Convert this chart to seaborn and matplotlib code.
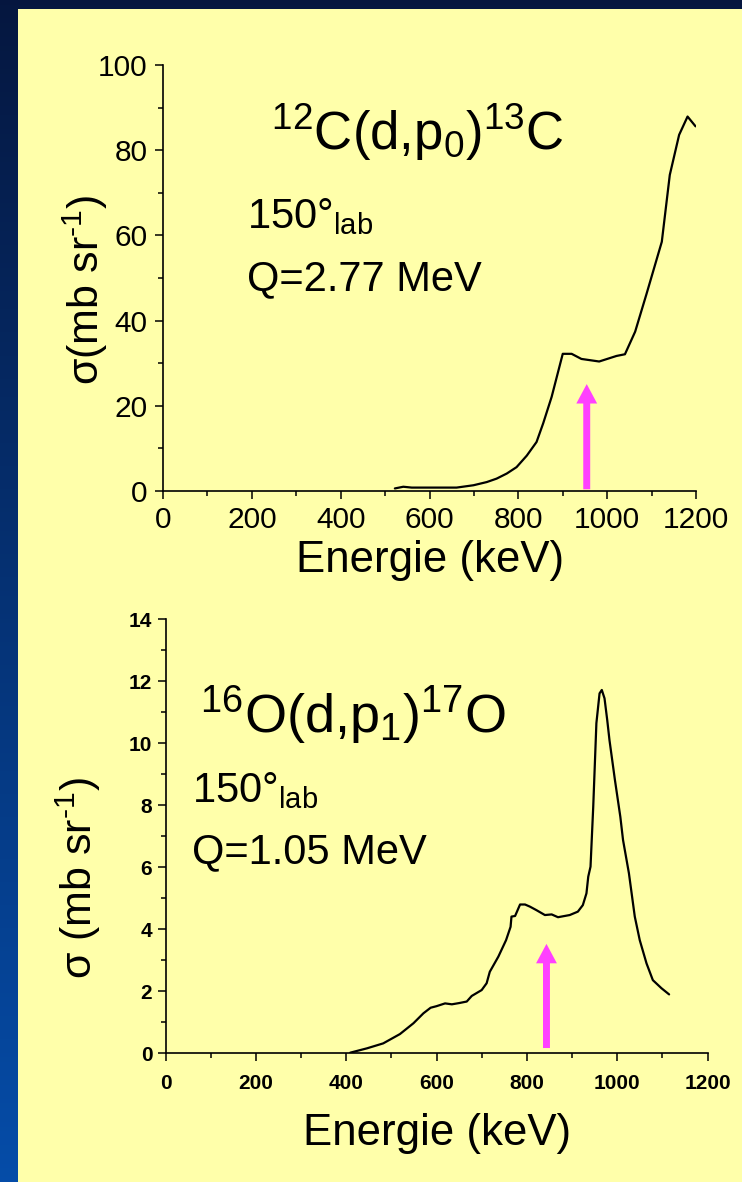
import numpy as np
import pandas as pd
import matplotlib
matplotlib.use("Agg")
import matplotlib.pyplot as plt
from matplotlib.patches import Rectangle
import seaborn as sns

# ---------------- data ----------------
E_c = [522, 541, 560, 601, 661, 699, 729, 751, 774, 796, 819, 841, 856, 875,
       900, 920, 942, 982, 1021, 1040, 1063, 1089, 1123, 1141, 1162, 1181, 1199]
sig_c = [0.6, 1.0, 0.8, 0.8, 0.8, 1.35, 2.1, 2.9, 4.1, 5.6, 8.3, 11.5, 15.9, 22.1,
         32.2, 32.2, 31.0, 30.4, 31.7, 32.1, 37.4, 46.4, 58.5, 74.2, 83.6, 87.9, 85.6]

E_o = [409, 446, 482, 519, 549, 571, 587, 600, 619, 634, 650, 667, 678, 700, 711,
       718, 737, 754, 764, 766, 774, 785, 796, 807, 821, 840, 855, 869, 895, 913,
       924, 932, 936, 941, 947, 954, 961, 966, 972, 978, 983, 995, 1007, 1013,
       1026, 1039, 1050, 1065, 1079, 1098, 1115]
sig_o = [0.02, 0.16, 0.32, 0.62, 0.97, 1.29, 1.47, 1.52, 1.61, 1.58, 1.62, 1.67,
         1.85, 2.04, 2.26, 2.63, 3.12, 3.65, 4.08, 4.41, 4.43, 4.80, 4.80, 4.73,
         4.62, 4.46, 4.48, 4.39, 4.46, 4.57, 4.78, 5.16, 5.70, 6.02, 7.95, 10.65,
         11.61, 11.72, 11.45, 10.75, 10.1, 8.82, 7.63, 6.88, 5.81, 4.41, 3.65,
         2.90, 2.36, 2.10, 1.90]

arrow_c = [954, 0.4, 25.1]     # energy, base, tip
arrow_o = [843.5, 0.17, 3.53]

yticks_c = [0, 20, 40, 60, 80, 100]
yticks_o = [0, 2, 4, 6, 8, 10, 12, 14]
xticks = [0, 200, 400, 600, 800, 1000, 1200]

title_c = r"$^{12}$C(d,p$_0$)$^{13}$C"
title_o = r"$^{16}$O(d,p$_1$)$^{17}$O"
angle_txt = r"150°$_{lab}$"
q_c = "Q=2.77 MeV"
q_o = "Q=1.05 MeV"
xlab = "Energie (keV)"
ylab_c = "σ(mb sr$^{\u2010 1}$)"
ylab_o = "σ (mb sr$^{\u2010 1}$)"

# ---------------- style ----------------
sns.set_theme(style="ticks")
plt.rcParams["font.family"] = ["Liberation Sans", "DejaVu Sans"]
plt.rcParams["mathtext.default"] = "regular"
for k in ["text.color", "axes.labelcolor", "xtick.color", "ytick.color",
          "axes.edgecolor"]:
    plt.rcParams[k] = "black"

W, H = 742, 1182
fig = plt.figure(figsize=(W / 100, H / 100), dpi=100)

# background: blue gradient with yellow panel
bg = fig.add_axes([0, 0, 1, 1], zorder=-10)
top = np.array([0.02, 0.09, 0.25])
bot = np.array([0.02, 0.30, 0.66])
t = np.linspace(0, 1, 256)[:, None]
grad = (top[None, :] * (1 - t) + bot[None, :] * t)[:, None, :]
grad = np.repeat(grad, 2, axis=1)
bg.imshow(grad, extent=[0, 1, 0, 1], aspect="auto", origin="upper")
bg.add_patch(Rectangle((18 / W, 0), 1 - 18 / W, 1 - 8.5 / H,
                       facecolor="#FFFFAA", edgecolor="none"))
bg.set_xlim(0, 1); bg.set_ylim(0, 1)
bg.axis("off")

MAG = "#FF40FF"


def frac(l, r, t_, b):
    return [l / W, 1 - b / H, (r - l) / W, (b - t_) / H]


def style_axes(ax, ylim, yticks, tick_fs, bold, xpad, ypad):
    ax.set_facecolor("none")
    for s in ["top", "right"]:
        ax.spines[s].set_visible(False)
    for s in ["left", "bottom"]:
        ax.spines[s].set_linewidth(1.2)
        ax.spines[s].set_color("black")
    ax.set_xlim(0, 1200)
    ax.set_ylim(*ylim)
    ax.set_xticks(xticks)
    ax.set_yticks(yticks)
    ax.set_xticks([v + 100 for v in xticks[:-1]], minor=True)
    ax.set_yticks([(a + b) / 2 for a, b in zip(yticks[:-1], yticks[1:])], minor=True)
    ax.tick_params(which="major", length=6, width=1.1, color="black")
    ax.tick_params(which="minor", length=3.5, width=1.1, color="black")
    ax.tick_params(axis="x", which="major", pad=xpad)
    ax.tick_params(axis="y", which="major", pad=ypad)
    for lab in ax.get_xticklabels() + ax.get_yticklabels():
        lab.set_fontsize(tick_fs)
        lab.set_color("black")
        if bold:
            lab.set_fontweight("bold")
    ax.grid(False)


# ---------------- top panel ----------------
ax1 = fig.add_axes(frac(163, 696, 65, 491))
sns.lineplot(x=E_c, y=sig_c, ax=ax1, color="black", lw=1.6, sort=False)
style_axes(ax1, (0, 100), yticks_c, 21.5, False, 4.5, 5)
ax1.annotate("", xy=(arrow_c[0], arrow_c[2]), xytext=(arrow_c[0], arrow_c[1]),
             arrowprops=dict(width=5, headwidth=15, headlength=14, shrink=0,
                             color=MAG, lw=0))
ax1.set_xlabel(xlab, fontsize=31.5, color="black")
ax1.xaxis.set_label_coords(0.501, -0.190)
ax1.xaxis.label.set_va("baseline")
ax1.set_ylabel(ylab_c, fontsize=31, color="black")
ax1.yaxis.set_label_coords(-0.146, 0.472)
ax1.yaxis.label.set_va("center")
ax1.text(0.4765, 0.8005, title_c, transform=ax1.transAxes, fontsize=38,
         ha="center", va="baseline", color="black")
ax1.text(0.1576, 0.6174, angle_txt, transform=ax1.transAxes, fontsize=30,
         ha="left", va="baseline", color="black")
ax1.text(0.1576, 0.4718, q_c, transform=ax1.transAxes, fontsize=30,
         ha="left", va="baseline", color="black")

# ---------------- bottom panel ----------------
ax2 = fig.add_axes(frac(165.5, 707.5, 619.3, 1053.3))
sns.lineplot(x=E_o, y=sig_o, ax=ax2, color="black", lw=1.6, sort=False)
style_axes(ax2, (0, 14), yticks_o, 15, True, 9, 3.5)
ax2.annotate("", xy=(arrow_o[0], arrow_o[2]), xytext=(arrow_o[0], arrow_o[1]),
             arrowprops=dict(width=5, headwidth=15, headlength=14, shrink=0,
                             color=MAG, lw=0))
ax2.set_xlabel(xlab, fontsize=31.5, color="black")
ax2.xaxis.set_label_coords(0.501, -0.2124)
ax2.xaxis.label.set_va("baseline")
ax2.set_ylabel(ylab_o, fontsize=31, color="black")
ax2.yaxis.set_label_coords(-0.161, 0.404)
ax2.yaxis.label.set_va("center")
ax2.text(0.345, 0.738, title_o, transform=ax2.transAxes, fontsize=39,
         ha="center", va="baseline", color="black")
ax2.text(0.0489, 0.579, angle_txt, transform=ax2.transAxes, fontsize=30,
         ha="left", va="baseline", color="black")
ax2.text(0.0489, 0.4387, q_o, transform=ax2.transAxes, fontsize=30,
         ha="left", va="baseline", color="black")

fig.savefig("out.png", dpi=100)
